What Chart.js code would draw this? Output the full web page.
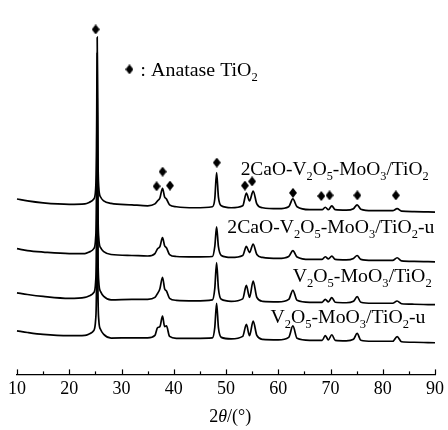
<!DOCTYPE html>
<html lang="en">
<head>
<meta charset="UTF-8">
<title>XRD patterns</title>
<script src="https://cdn.jsdelivr.net/npm/chart.js@4.4.1/dist/chart.umd.min.js"></script>
<style>
  html, body { margin: 0; padding: 0; background: #fff; }
  #wrap { width: 448px; height: 430px; }
</style>
</head>
<body>
<div id="wrap"><canvas id="xrd"></canvas></div>
<script>
// 2theta sample points (deg), shared by all four patterns
var twoTheta = [10, 12, 15, 20, 23, 24.0, 24.7, 25.05, 25.22, 25.35, 25.48, 25.65, 26.0, 26.6, 28, 32, 35,
  36.4, 36.9, 37.35, 37.85, 38.25, 38.6, 39.2, 40.5, 44, 47.4, 47.85, 48.2, 48.55, 49.1, 51, 53.2, 53.9,
  54.5, 55.2, 55.9, 57, 60, 62.0, 62.8, 63.6, 66, 68.4, 69.0, 69.6, 70.25, 70.9, 73, 74.4, 75.1, 75.8,
  78, 81.9, 82.75, 83.6, 86, 90];

// stacked intensities (a.u.), top pattern first
var caVMoTi = [180, 178, 176, 174.5, 175, 177, 180, 190, 230, 346, 230, 192, 182, 178, 175.5, 174, 173,
  175, 178, 181, 191, 182, 180, 174, 172, 171, 172, 180, 207, 182, 173, 171, 173, 186,
  178, 188, 175, 171, 170, 172, 180, 172, 169, 169, 171.5, 169, 173, 169, 168.5, 170, 174, 169.5,
  168, 168, 170, 167.5, 167, 166.5];
var caVMoTiU = [129, 127, 125.5, 124, 124, 126, 129, 140, 180, 330, 180, 140, 130, 126, 123, 122, 121.5,
  124, 129, 131, 140.3, 132, 130, 123, 121, 120.5, 121, 131, 151.3, 131, 122, 120, 122, 131.3,
  125, 133.7, 123, 120, 119, 121, 127, 120.5, 118, 118, 120.7, 118.5, 121.3, 118, 117.5, 119, 122, 118,
  117, 117, 119.7, 116.5, 116, 115.5];
var vMoTi = [83.7, 82, 80, 78, 79, 81, 84, 95, 135, 283, 135, 95, 85, 80, 76.5, 77, 77,
  79, 83, 88, 99.7, 88, 85.7, 78, 76, 75.5, 76.5, 88, 114.7, 88, 77, 75, 77.5, 91.3,
  79, 95.7, 79, 75, 74.5, 77, 86.3, 76, 74, 74, 77, 74.5, 78.7, 74, 73.5, 75, 79.7, 74,
  73, 73, 75.3, 72.5, 72, 71.5];
var vMoTiU = [44.7, 43, 41, 39.7, 40, 42, 45, 56, 95, 268, 95, 56, 46, 41, 37.3, 37.5, 37.5,
  40, 48, 49, 59.7, 49, 49.7, 39, 37, 37, 37.5, 48, 73, 48, 38, 36.5, 39, 51.3,
  39.7, 54.7, 40, 36, 35.5, 38, 49.7, 37, 35, 35, 39.7, 35.5, 40.7, 35, 34.5, 36, 42, 35,
  34, 34, 38.7, 33.5, 33, 32.5];

// anatase markers
var markTheta = [25.05, 36.72, 37.87, 39.28, 48.23, 53.62, 55.0, 62.82, 68.23, 69.81, 75.14, 82.51];
var markY = [354, 193, 208, 193.7, 217.3, 193.7, 198, 186.3, 183, 183.7, 183.7, 183.7];
var legendMark = [31.52, 313];

var sampleNames = ['2CaO-V_2O_5-MoO_3/TiO_2', '2CaO-V_2O_5-MoO_3/TiO_2-u', 'V_2O_5-MoO_3/TiO_2', 'V_2O_5-MoO_3/TiO_2-u'];
var xTicks = [10, 20, 30, 40, 50, 60, 70, 80, 90];

// where the names sit (2theta, intensity of baseline) and how wide they are drawn
var nameSpots = [
  { x: 52.8, y: 205, w: 188 },
  { x: 50.25, y: 144.7, w: 207 },
  { x: 62.76, y: 94.7, w: 139 },
  { x: 58.5, y: 53, w: 155 }
];

var SERIF = '"Liberation Serif", "DejaVu Serif", serif';

function pts(ys) {
  return twoTheta.map(function (t, i) { return { x: t, y: ys[i] }; });
}

function diamond(w, h) {
  var c = document.createElement('canvas');
  c.width = w; c.height = h;
  var g = c.getContext('2d');
  g.fillStyle = '#000';
  g.beginPath();
  g.moveTo(w / 2, 0); g.lineTo(w, h / 2); g.lineTo(w / 2, h); g.lineTo(0, h / 2);
  g.closePath(); g.fill();
  return c;
}
var dia = diamond(8, 10);

// text with _d subscripts, squeezed to a given width
function richText(ctx, str, x, y, size, width) {
  var parts = [];
  for (var i = 0; i < str.length; i++) {
    if (str[i] === '_') { parts.push({ t: str[i + 1], sub: true }); i++; }
    else if (parts.length && !parts[parts.length - 1].sub) parts[parts.length - 1].t += str[i];
    else parts.push({ t: str[i], sub: false });
  }
  var total = 0;
  parts.forEach(function (p) {
    ctx.font = (p.sub ? Math.round(size * 0.62) : size) + 'px ' + SERIF;
    p.w = ctx.measureText(p.t).width;
    total += p.w;
  });
  var sx = width ? width / total : 1;
  ctx.save();
  ctx.translate(x, y);
  ctx.scale(sx, 1);
  ctx.fillStyle = '#000';
  ctx.textBaseline = 'alphabetic';
  ctx.textAlign = 'left';
  var cx = 0;
  parts.forEach(function (p) {
    ctx.font = (p.sub ? Math.round(size * 0.62) : size) + 'px ' + SERIF;
    ctx.fillText(p.t, cx, p.sub ? 5 : 0);
    cx += p.w;
  });
  ctx.restore();
}

var decor = {
  id: 'decor',
  afterDraw: function (chart) {
    var ctx = chart.ctx, xs = chart.scales.x, ys = chart.scales.y;
    var base = chart.chartArea.bottom;
    ctx.save();
    ctx.strokeStyle = '#000';
    ctx.lineWidth = 1.2;
    for (var v = 10; v <= 90; v += 5) {
      var px = Math.round(xs.getPixelForValue(v)) + 0.5;
      var len = v % 10 === 0 ? 5 : 3;
      ctx.beginPath(); ctx.moveTo(px, base); ctx.lineTo(px, base - len); ctx.stroke();
    }
    // axis title 2θ/(°)
    ctx.fillStyle = '#000';
    ctx.textBaseline = 'alphabetic';
    var pieces = [['2', 'normal'], ['θ', 'italic'], ['/(°)', 'normal']];
    var tw = 0;
    pieces.forEach(function (p) { ctx.font = p[1] + ' 18px ' + SERIF; p.push(ctx.measureText(p[0]).width); tw += p[2]; });
    var tx = xs.getPixelForValue(50.8) - tw / 2;
    pieces.forEach(function (p) { ctx.font = p[1] + ' 18px ' + SERIF; ctx.fillText(p[0], tx, 422); tx += p[2]; });
    ctx.restore();

    sampleNames.forEach(function (n, i) {
      var s = nameSpots[i];
      richText(ctx, n, xs.getPixelForValue(s.x), ys.getPixelForValue(s.y), 19, s.w);
    });
    // legend text
    richText(ctx, ':', xs.getPixelForValue(33.62), ys.getPixelForValue(306.3), 19, 0);
    richText(ctx, 'Anatase TiO_2', xs.getPixelForValue(35.66), ys.getPixelForValue(306.3), 19, 106.7);
  }
};

var lineStyle = {
  type: 'line', borderColor: '#000', borderWidth: 1.7, pointRadius: 0, fill: false,
  cubicInterpolationMode: 'monotone', clip: false
};

new Chart(document.getElementById('xrd'), {
  data: {
    datasets: [
      Object.assign({ label: sampleNames[3], data: pts(vMoTiU) }, lineStyle),
      Object.assign({ label: sampleNames[2], data: pts(vMoTi) }, lineStyle),
      Object.assign({ label: sampleNames[1], data: pts(caVMoTiU) }, lineStyle),
      Object.assign({ label: sampleNames[0], data: pts(caVMoTi) }, lineStyle),
      {
        type: 'scatter', label: 'Anatase TiO2',
        data: markTheta.map(function (t, i) { return { x: t, y: markY[i] }; })
          .concat([{ x: legendMark[0], y: legendMark[1] }]),
        pointStyle: dia, pointRadius: 5, clip: false
      }
    ]
  },
  options: {
    responsive: true,
    maintainAspectRatio: false,
    animation: false,
    devicePixelRatio: 1,
    layout: { padding: { left: 17, right: 11, top: 0, bottom: 26 } },
    plugins: { legend: { display: false }, tooltip: { enabled: false } },
    scales: {
      x: {
        type: 'linear', min: 10, max: 90,
        afterBuildTicks: function (axis) { axis.ticks = xTicks.map(function (v) { return { value: v }; }); },
        ticks: { autoSkip: false, maxRotation: 0, padding: 4, color: '#000', font: { family: SERIF, size: 18 } },
        grid: { display: true, drawOnChartArea: false, drawTicks: false },
        border: { display: true, color: '#000', width: 1.3 }
      },
      y: { display: false, min: 0, max: 378 }
    }
  },
  plugins: [decor]
});
</script>
</body>
</html>
